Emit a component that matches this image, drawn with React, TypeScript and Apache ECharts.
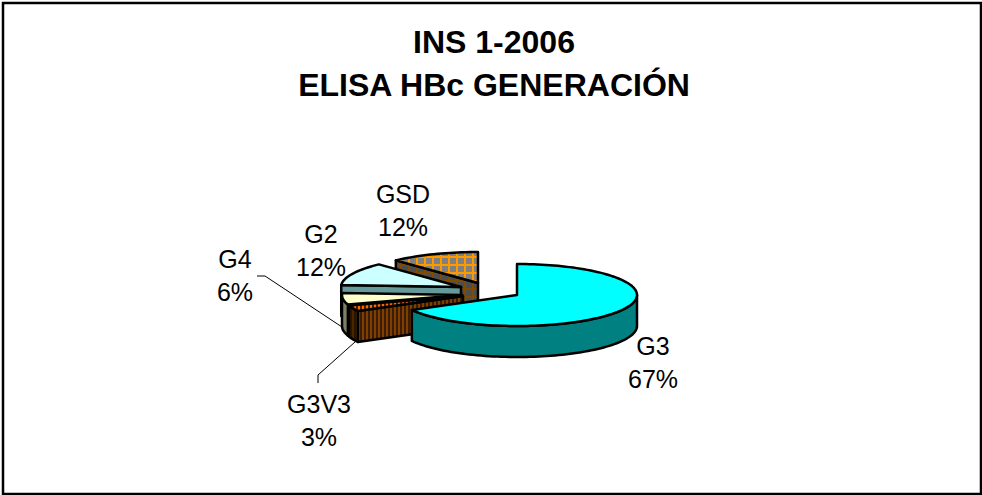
import React, { useEffect, useRef } from "react";
import * as echarts from "echarts";

const titleLines = ["INS 1-2006", "ELISA HBc GENERACIÓN"];
const categories = ["G3", "G3V3", "G4", "G2", "GSD"];
const percents = [67, 3, 6, 12, 12];
const drawOrder = [4, 3, 2, 1, 0];

// Layout of the pseudo-3D pie, not data
const RX = 120;
const RY = 31;
const DEPTH = 31;
const apexes = [[517, 295], [463, 296], [462, 295], [461, 287], [478, 283]];
const labelPos = [[653, 362], [319, 420], [235, 275], [321, 250], [403, 210]];
const leaders = [null, [[318, 383], [318, 375], [355, 342]], [[257, 276], [265, 276], [342, 327]], null, null];

function tile(size: number, draw: (c: CanvasRenderingContext2D) => void) {
  const canvas = document.createElement("canvas");
  canvas.width = size;
  canvas.height = size;
  draw(canvas.getContext("2d")!);
  return { image: canvas, repeat: "repeat" };
}
function stripes(a: string, b: string) {
  return tile(4, (c) => {
    c.fillStyle = a;
    c.fillRect(0, 0, 4, 4);
    c.fillStyle = b;
    c.fillRect(0, 0, 2, 4);
  });
}
function grid(bg: string, line: string) {
  return tile(8, (c) => {
    c.fillStyle = bg;
    c.fillRect(0, 0, 8, 8);
    c.fillStyle = line;
    c.fillRect(0, 0, 2, 8);
    c.fillRect(0, 0, 8, 2);
  });
}

export default function App() {
  const ref = useRef<HTMLDivElement>(null);
  useEffect(() => {
    const chart = echarts.init(ref.current!, undefined, { renderer: "svg" });
    const topFills: any[] = [
      "#00FFFF",
      stripes("#FF6600", "#402000"),
      "#FFFFCC",
      "#CCFFFF",
      grid("#808080", "#FF9900"),
    ];
    const rimFills: any[] = [
      "#008080",
      stripes("#2A1500", "#4A2500"),
      "#808066",
      "#669999",
      "#666666",
    ];
    const wallFills: any[] = [
      "#008080",
      stripes("#803F00", "#3A1C00"),
      "#808066",
      "#669999",
      grid("#4D4D4D", "#7F4C00"),
    ];
    const total = percents.reduce((a, b) => a + b, 0);
    const starts = percents.map((_, i) =>
      (percents.slice(0, i).reduce((a, b) => a + b, 0) / total) * 360
    );
    const point = (i: number, deg: number, dy = 0) => {
      const r = (deg * Math.PI) / 180;
      return [apexes[i][0] + RX * Math.sin(r), apexes[i][1] - RY * Math.cos(r) + dy];
    };
    const arc = (i: number, a: number, b: number, dy = 0) => {
      const pts: number[][] = [];
      const n = Math.max(2, Math.ceil(Math.abs(b - a) / 2));
      for (let k = 0; k <= n; k++) pts.push(point(i, a + ((b - a) * k) / n, dy));
      return pts;
    };
    const edge = { stroke: "#000", lineWidth: 2.5, lineJoin: "round" };

    const renderItem = (params: any, api: any) => {
      const i = api.value(0);
      const a = starts[i];
      const b = a + (percents[i] / total) * 360;
      const apex = apexes[i];
      const children: any[] = [];
      // The radial wall on a slice's clockwise start faces the viewer for all but G3
      if (i !== 0) {
        const p = point(i, a);
        children.push({
          type: "polygon",
          shape: { points: [p, apex, [apex[0], apex[1] + DEPTH], [p[0], p[1] + DEPTH]] },
          style: { fill: wallFills[i], ...edge },
        });
      }
      const rimFrom = Math.max(a, 90);
      const rimTo = Math.min(b, 270);
      if (rimTo > rimFrom) {
        children.push({
          type: "polygon",
          shape: { points: [...arc(i, rimFrom, rimTo), ...arc(i, rimTo, rimFrom, DEPTH)] },
          style: { fill: rimFills[i], ...edge },
        });
      }
      children.push({
        type: "polygon",
        shape: { points: [apex, ...arc(i, a, b)] },
        style: { fill: topFills[i], ...edge },
      });
      return { type: "group", children };
    };

    const textFont = { fontFamily: "'Liberation Sans', Arial, sans-serif", fontSize: 25, fill: "#000" };
    const labels: any[] = [];
    categories.forEach((name, i) => {
      labels.push({
        type: "text",
        x: labelPos[i][0],
        y: labelPos[i][1],
        style: {
          text: `${name}\n${percents[i]}%`,
          ...textFont,
          lineHeight: 33,
          align: "center",
          verticalAlign: "middle",
        },
      });
      const l = leaders[i];
      if (l) {
        labels.push({
          type: "polyline",
          shape: { points: l },
          style: { fill: "none", stroke: "#000", lineWidth: 1 },
        });
      }
    });

    chart.setOption({
      animation: false,
      backgroundColor: "#fff",
      title: {
        text: titleLines.join("\n"),
        left: 489,
        top: 15,
        textAlign: "center",
        textStyle: {
          fontFamily: "'Liberation Sans', Arial, sans-serif",
          fontWeight: "bold",
          fontSize: 32,
          lineHeight: 43,
          color: "#000",
        },
      },
      graphic: {
        elements: [
          {
            type: "rect",
            shape: { x: 3, y: 3, width: 978, height: 491 },
            style: { fill: "none", stroke: "#000", lineWidth: 2.5 },
            z: 0,
          },
          ...labels.map((l) => ({ ...l, z: 10 })),
        ],
      },
      series: [
        {
          type: "custom",
          coordinateSystem: "none",
          renderItem,
          data: drawOrder.map((i) => [i]),
          silent: true,
          clip: false,
        },
      ],
    });
    return () => chart.dispose();
  }, []);
  return (
    <div
      ref={ref}
      style={{ position: "fixed", left: 0, top: 0, width: 982, height: 495 }}
    />
  );
}
